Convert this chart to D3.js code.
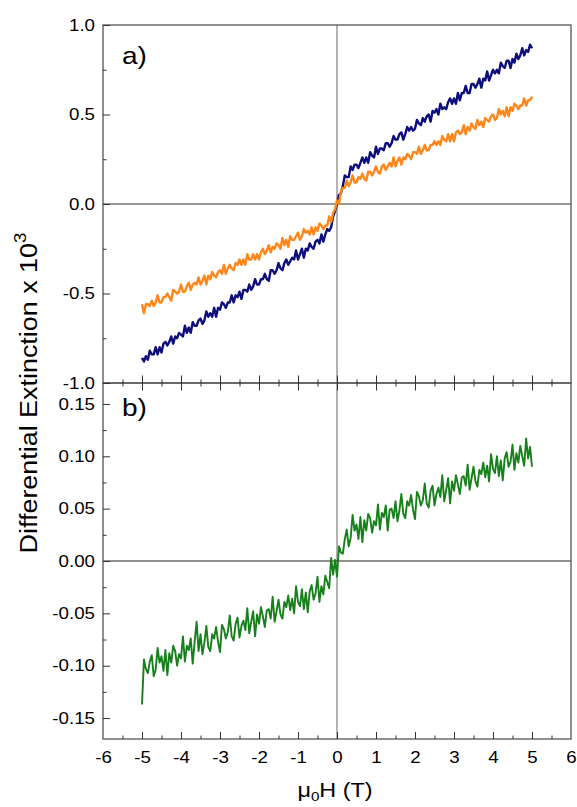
<!DOCTYPE html>
<html>
<head>
<meta charset="utf-8">
<script src="https://cdn.jsdelivr.net/npm/d3@7/dist/d3.min.js"></script>
<style>
    body { margin: 0; background: #fff; }
    svg { display: block; }
    text { font-family: "Liberation Sans", Arial, sans-serif; fill: #000; }
</style>
</head>
<body>
<svg id="chart" width="577" height="807"></svg>
<script>
// field sweep, -5 T .. 5 T in 0.05 T steps (201 samples)
var fieldT = d3.range(201).map(function (i) { return +(-5 + i * 0.05).toFixed(2); });

// panel a) differential extinction x 10^3, dark blue trace
var blueA = [
    -0.86, -0.88, -0.85, -0.87, -0.82, -0.84, -0.84, -0.80, -0.84, -0.80,
    -0.83, -0.78, -0.77, -0.79, -0.77, -0.74, -0.78, -0.74, -0.75, -0.72,
    -0.73, -0.74, -0.68, -0.72, -0.69, -0.72, -0.66, -0.68, -0.68, -0.65,
    -0.64, -0.67, -0.65, -0.60, -0.63, -0.61, -0.63, -0.58, -0.63, -0.58,
    -0.59, -0.55, -0.56, -0.58, -0.55, -0.55, -0.51, -0.55, -0.51, -0.52,
    -0.49, -0.53, -0.48, -0.48, -0.49, -0.45, -0.48, -0.46, -0.42, -0.45,
    -0.45, -0.42, -0.42, -0.39, -0.42, -0.43, -0.37, -0.37, -0.39, -0.37,
    -0.33, -0.36, -0.37, -0.33, -0.31, -0.34, -0.32, -0.30, -0.31, -0.26,
    -0.31, -0.28, -0.25, -0.30, -0.25, -0.26, -0.22, -0.24, -0.25, -0.21,
    -0.20, -0.22, -0.17, -0.21, -0.17, -0.14, -0.15, -0.13, -0.07, -0.04,
    0.00,
    0.05, 0.06, 0.10, 0.16, 0.15, 0.15, 0.21, 0.19, 0.22, 0.22,
    0.20, 0.23, 0.26, 0.23, 0.26, 0.23, 0.29, 0.27, 0.26, 0.32,
    0.28, 0.31, 0.31, 0.30, 0.34, 0.34, 0.32, 0.34, 0.38, 0.36,
    0.36, 0.39, 0.40, 0.36, 0.39, 0.43, 0.41, 0.43, 0.41, 0.42,
    0.47, 0.45, 0.44, 0.48, 0.46, 0.49, 0.50, 0.46, 0.52, 0.51,
    0.53, 0.50, 0.56, 0.53, 0.54, 0.53, 0.57, 0.59, 0.56, 0.59,
    0.56, 0.62, 0.58, 0.62, 0.62, 0.66, 0.62, 0.62, 0.67, 0.67,
    0.65, 0.67, 0.70, 0.65, 0.70, 0.69, 0.74, 0.69, 0.72, 0.75,
    0.73, 0.75, 0.73, 0.79, 0.77, 0.76, 0.80, 0.80, 0.76, 0.81,
    0.79, 0.84, 0.81, 0.83, 0.87, 0.83, 0.86, 0.85, 0.89, 0.87
];

// panel a) orange trace
var orangeA = [
    -0.56, -0.61, -0.56, -0.56, -0.57, -0.54, -0.57, -0.55, -0.51, -0.55,
    -0.55, -0.52, -0.52, -0.50, -0.52, -0.54, -0.48, -0.49, -0.50, -0.49,
    -0.45, -0.49, -0.49, -0.46, -0.44, -0.48, -0.45, -0.44, -0.45, -0.41,
    -0.45, -0.43, -0.40, -0.45, -0.40, -0.42, -0.38, -0.40, -0.41, -0.38,
    -0.37, -0.39, -0.34, -0.39, -0.36, -0.34, -0.36, -0.37, -0.33, -0.34,
    -0.31, -0.34, -0.31, -0.34, -0.28, -0.31, -0.31, -0.28, -0.31, -0.28,
    -0.31, -0.27, -0.25, -0.28, -0.26, -0.23, -0.27, -0.24, -0.25, -0.22,
    -0.23, -0.25, -0.19, -0.23, -0.20, -0.24, -0.18, -0.20, -0.20, -0.18,
    -0.16, -0.20, -0.18, -0.14, -0.16, -0.15, -0.17, -0.13, -0.17, -0.13,
    -0.15, -0.11, -0.12, -0.14, -0.12, -0.12, -0.07, -0.10, -0.05, -0.03,
    0.02,
    0.00, 0.07, 0.09, 0.09, 0.13, 0.10, 0.12, 0.16, 0.12, 0.12,
    0.15, 0.14, 0.17, 0.14, 0.13, 0.18, 0.18, 0.16, 0.18, 0.21,
    0.18, 0.17, 0.21, 0.22, 0.19, 0.21, 0.23, 0.21, 0.26, 0.21,
    0.24, 0.26, 0.22, 0.26, 0.25, 0.28, 0.27, 0.25, 0.29, 0.29,
    0.28, 0.32, 0.28, 0.30, 0.33, 0.30, 0.30, 0.33, 0.33, 0.35,
    0.33, 0.35, 0.33, 0.38, 0.36, 0.35, 0.39, 0.35, 0.39, 0.35,
    0.40, 0.41, 0.39, 0.40, 0.44, 0.39, 0.43, 0.41, 0.45, 0.43,
    0.42, 0.47, 0.44, 0.46, 0.43, 0.48, 0.47, 0.46, 0.49, 0.50,
    0.47, 0.48, 0.53, 0.50, 0.52, 0.49, 0.54, 0.49, 0.54, 0.52,
    0.56, 0.55, 0.53, 0.55, 0.55, 0.59, 0.55, 0.58, 0.58, 0.60
];

// panel b) green trace
var greenB = [
    -0.137, -0.094, -0.103, -0.107, -0.096, -0.090, -0.110, -0.104, -0.083, -0.097,
    -0.091, -0.105, -0.085, -0.109, -0.088, -0.097, -0.081, -0.086, -0.100, -0.089,
    -0.093, -0.072, -0.096, -0.081, -0.085, -0.074, -0.098, -0.077, -0.058, -0.086,
    -0.070, -0.089, -0.078, -0.062, -0.082, -0.086, -0.070, -0.074, -0.063, -0.077,
    -0.087, -0.061, -0.065, -0.074, -0.068, -0.052, -0.072, -0.076, -0.060, -0.054,
    -0.073, -0.062, -0.057, -0.066, -0.045, -0.069, -0.058, -0.048, -0.072, -0.051,
    -0.060, -0.044, -0.053, -0.063, -0.047, -0.046, -0.055, -0.034, -0.058, -0.048,
    -0.037, -0.051, -0.055, -0.039, -0.044, -0.033, -0.047, -0.036, -0.050, -0.024,
    -0.039, -0.043, -0.027, -0.046, -0.030, -0.049, -0.029, -0.023, -0.037, -0.031,
    -0.015, -0.039, -0.024, -0.032, -0.014, -0.020, -0.026, 0.003, -0.013, 0.001,
    -0.015,
    0.014, 0.008, 0.007, 0.021, 0.030, 0.014, 0.022, 0.044, 0.029, 0.035,
    0.021, 0.042, 0.018, 0.039, 0.029, 0.045, 0.041, 0.027, 0.038, 0.034,
    0.054, 0.030, 0.046, 0.042, 0.053, 0.029, 0.049, 0.050, 0.041, 0.057,
    0.038, 0.048, 0.064, 0.045, 0.041, 0.057, 0.053, 0.063, 0.049, 0.040,
    0.066, 0.062, 0.053, 0.058, 0.074, 0.055, 0.051, 0.067, 0.072, 0.053,
    0.064, 0.070, 0.061, 0.082, 0.057, 0.068, 0.079, 0.055, 0.076, 0.067,
    0.082, 0.073, 0.064, 0.080, 0.081, 0.072, 0.092, 0.068, 0.079, 0.090,
    0.076, 0.071, 0.087, 0.083, 0.094, 0.080, 0.091, 0.076, 0.102, 0.088,
    0.084, 0.100, 0.081, 0.096, 0.077, 0.098, 0.104, 0.090, 0.095, 0.111,
    0.087, 0.103, 0.094, 0.110, 0.100, 0.091, 0.117, 0.098, 0.109, 0.090
];

var xTicks = [-6, -5, -4, -3, -2, -1, 0, 1, 2, 3, 4, 5, 6];
var xMinor = [-5.5, -4.5, -3.5, -2.5, -1.5, -0.5, 0.5, 1.5, 2.5, 3.5, 4.5, 5.5];
var yTicksA = [-1.0, -0.5, 0.0, 0.5, 1.0];
var yMinorA = [-0.75, -0.25, 0.25, 0.75];
var yTicksB = [-0.15, -0.10, -0.05, 0.00, 0.05, 0.10, 0.15];
var yMinorB = [-0.125, -0.075, -0.025, 0.025, 0.075, 0.125];

var seriesA = [
    {name: "blue", color: "#0d0d7c", values: blueA, width: 2.4},
    {name: "orange", color: "#ff871a", values: orangeA, width: 2.4}
];
var seriesB = [
    {name: "green", color: "#16801a", values: greenB, width: 1.9}
];

var stretch = 1.17;   // glyphs in the original are drawn a bit wide
var left = 103, right = 571;
var topA = 25, bottomA = 383, bottomB = 739;

var svg = d3.select("#chart");

var x = d3.scaleLinear().domain([-6, 6]).range([left, right]);
var yA = d3.scaleLinear().domain([-1, 1]).range([bottomA, topA]);
var yB = d3.scaleLinear().domain([-0.17, 0.17]).range([bottomB, bottomA]);

// plain hyphen instead of d3's unicode minus
function fmt(spec) {
    var f = d3.format(spec);
    return function (d) { return f(d).replace("\u2212", "-"); };
}

function stretchText(sel, dx) {
    sel.selectAll("text")
        .attr("transform", "scale(" + stretch + ",1)")
        .attr("x", dx / stretch);
}

function cleanAxis(g) {
    g.select(".domain").remove();
    g.selectAll("line").attr("stroke", "#333").attr("stroke-width", 1);
}

// zero lines under the data
svg.append("line")
    .attr("x1", x(0)).attr("x2", x(0))
    .attr("y1", topA).attr("y2", bottomB)
    .attr("stroke", "#8a8a8a").attr("stroke-width", 1.3);
svg.append("line")
    .attr("x1", left).attr("x2", right)
    .attr("y1", yA(0)).attr("y2", yA(0))
    .attr("stroke", "#333").attr("stroke-width", 1.1);
svg.append("line")
    .attr("x1", left).attr("x2", right)
    .attr("y1", yB(0)).attr("y2", yB(0))
    .attr("stroke", "#222").attr("stroke-width", 1.1);

function drawSeries(list, y) {
    var line = d3.line()
        .x(function (d, i) { return x(fieldT[i]); })
        .y(function (d) { return y(d); });
    svg.selectAll(null)
        .data(list)
        .enter().append("path")
        .attr("class", function (d) { return "trace " + d.name; })
        .attr("fill", "none")
        .attr("stroke", function (d) { return d.color; })
        .attr("stroke-width", function (d) { return d.width; })
        .attr("stroke-linejoin", "round")
        .attr("d", function (d) { return line(d.values); });
}
drawSeries(seriesA, yA);
drawSeries(seriesB, yB);

// frames
[[topA, bottomA], [bottomA, bottomB]].forEach(function (p) {
    svg.append("rect")
        .attr("x", left).attr("y", p[0])
        .attr("width", right - left).attr("height", p[1] - p[0])
        .attr("fill", "none")
        .attr("stroke", "#555").attr("stroke-width", 1.3);
});

// left axes, ticks pointing in
function leftAxis(y, major, minor, spec) {
    var gMinor = svg.append("g").attr("transform", "translate(" + left + ",0)")
        .call(d3.axisLeft(y).tickValues(minor).tickSize(-3.5).tickFormat(""));
    cleanAxis(gMinor);
    var gMajor = svg.append("g").attr("transform", "translate(" + left + ",0)")
        .call(d3.axisLeft(y).tickValues(major).tickSize(-7).tickFormat(fmt(spec)));
    cleanAxis(gMajor);
    gMajor.selectAll("text").attr("font-size", "16px").attr("fill", "#111");
    stretchText(gMajor, -8);
}
leftAxis(yA, yTicksA, yMinorA, ".1f");
leftAxis(yB, yTicksB, yMinorB, ".2f");

// shared boundary between panels: ticks into both panels
[-1, 1].forEach(function (dir) {
    var g1 = svg.append("g").attr("transform", "translate(0," + bottomA + ")")
        .call(d3.axisBottom(x).tickValues(xTicks.slice(1, -1)).tickSize(7.5 * dir).tickFormat(""));
    cleanAxis(g1);
    var g2 = svg.append("g").attr("transform", "translate(0," + bottomA + ")")
        .call(d3.axisBottom(x).tickValues(xMinor).tickSize(3.5 * dir).tickFormat(""));
    cleanAxis(g2);
});

// bottom axis
var gxMinor = svg.append("g").attr("transform", "translate(0," + bottomB + ")")
    .call(d3.axisBottom(x).tickValues(xMinor).tickSize(-3.5).tickFormat(""));
cleanAxis(gxMinor);
var gx = svg.append("g").attr("transform", "translate(0," + bottomB + ")")
    .call(d3.axisBottom(x).tickValues(xTicks).tickSizeInner(-7).tickPadding(13).tickFormat(fmt("d")));
cleanAxis(gx);
gx.selectAll("text").attr("font-size", "16px").attr("fill", "#111");
stretchText(gx, 0);
gx.selectAll(".tick").filter(function (d) { return d === -6 || d === 6; })
    .select("line").remove();

// panel letters
[["a)", 64], ["b)", 415.5]].forEach(function (p) {
    svg.append("g").attr("transform", "translate(122," + p[1] + ") scale(" + stretch + ",1)")
        .append("text").attr("font-size", "24px").text(p[0]);
});

// axis titles
var yTitle = svg.append("g")
    .attr("transform", "translate(37,393) rotate(-90) scale(" + stretch + ",1)")
    .append("text")
    .attr("text-anchor", "middle")
    .attr("font-size", "23px");
yTitle.append("tspan").text("Differential Extinction x 10");
yTitle.append("tspan").attr("dy", -11).attr("font-size", "16px").text("3");

var xTitle = svg.append("g")
    .attr("transform", "translate(335,797) scale(" + stretch + ",1)")
    .append("text")
    .attr("text-anchor", "middle")
    .attr("font-size", "20px");
xTitle.append("tspan").text("\u03bc");
xTitle.append("tspan").attr("dy", 4).attr("font-size", "13px").text("0");
xTitle.append("tspan").attr("dy", -4).text("H (T)");
</script>
</body>
</html>
